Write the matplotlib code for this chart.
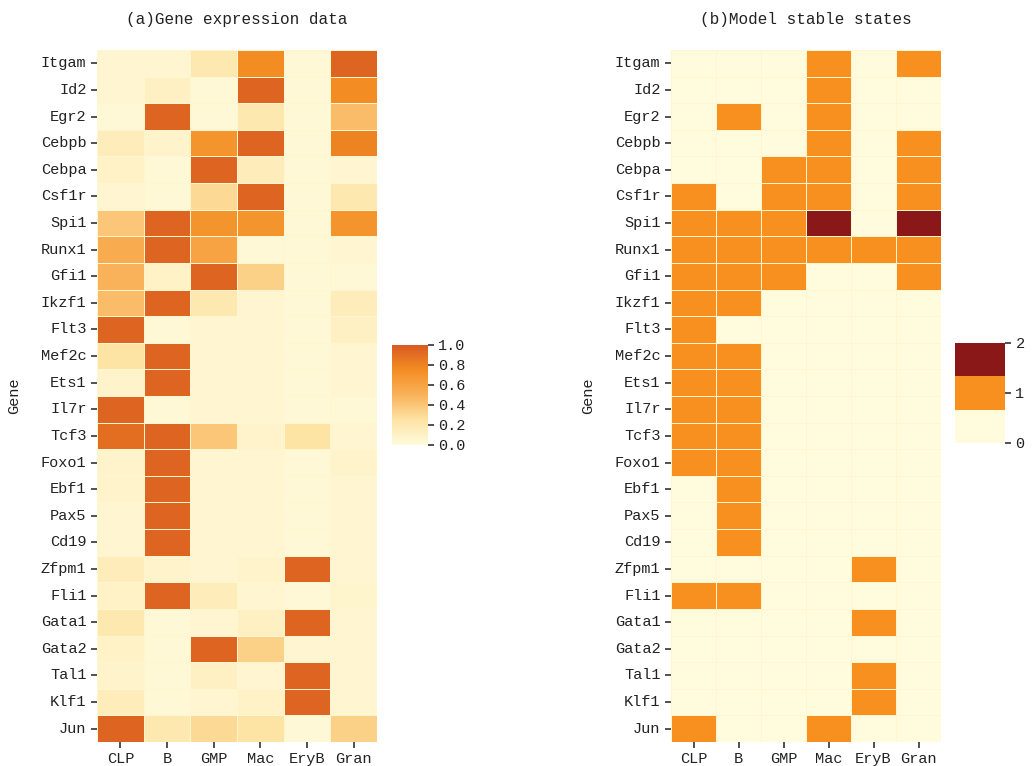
import numpy as np
import matplotlib
matplotlib.use("Agg")
import matplotlib.pyplot as plt
import seaborn as sns
from matplotlib.colors import LinearSegmentedColormap, ListedColormap

genes = ["Itgam", "Id2", "Egr2", "Cebpb", "Cebpa", "Csf1r", "Spi1", "Runx1", "Gfi1",
         "Ikzf1", "Flt3", "Mef2c", "Ets1", "Il7r", "Tcf3", "Foxo1", "Ebf1", "Pax5",
         "Cd19", "Zfpm1", "Fli1", "Gata1", "Gata2", "Tal1", "Klf1", "Jun"]
cells = ["CLP", "B", "GMP", "Mac", "EryB", "Gran"]

# (a) expression, columns follow `cells`
expr = [
    [0.05, 0.05, 0.20, 0.75, 0.03, 0.95],
    [0.05, 0.12, 0.03, 0.95, 0.03, 0.75],
    [0.03, 0.95, 0.03, 0.20, 0.03, 0.45],
    [0.15, 0.08, 0.70, 0.95, 0.03, 0.80],
    [0.10, 0.03, 0.95, 0.15, 0.03, 0.05],
    [0.05, 0.03, 0.30, 0.95, 0.03, 0.20],
    [0.40, 0.95, 0.70, 0.70, 0.03, 0.70],
    [0.55, 0.95, 0.60, 0.03, 0.03, 0.05],
    [0.50, 0.10, 0.95, 0.35, 0.03, 0.03],
    [0.45, 0.95, 0.20, 0.05, 0.03, 0.15],
    [0.95, 0.03, 0.05, 0.05, 0.03, 0.12],
    [0.25, 0.95, 0.05, 0.05, 0.03, 0.05],
    [0.08, 0.95, 0.05, 0.05, 0.03, 0.05],
    [0.95, 0.03, 0.05, 0.05, 0.03, 0.03],
    [0.90, 0.95, 0.40, 0.08, 0.25, 0.05],
    [0.08, 0.95, 0.05, 0.05, 0.03, 0.08],
    [0.08, 0.95, 0.05, 0.05, 0.03, 0.05],
    [0.05, 0.95, 0.05, 0.05, 0.03, 0.05],
    [0.05, 0.95, 0.05, 0.05, 0.03, 0.05],
    [0.15, 0.08, 0.05, 0.08, 0.95, 0.05],
    [0.10, 0.95, 0.15, 0.05, 0.03, 0.07],
    [0.20, 0.03, 0.05, 0.12, 0.95, 0.05],
    [0.10, 0.03, 0.95, 0.35, 0.05, 0.05],
    [0.08, 0.03, 0.12, 0.05, 0.95, 0.05],
    [0.15, 0.03, 0.05, 0.10, 0.95, 0.05],
    [0.95, 0.20, 0.30, 0.25, 0.03, 0.35],
]

# (b) model stable states
states = [
    [0, 0, 0, 1, 0, 1],
    [0, 0, 0, 1, 0, 0],
    [0, 1, 0, 1, 0, 0],
    [0, 0, 0, 1, 0, 1],
    [0, 0, 1, 1, 0, 1],
    [1, 0, 1, 1, 0, 1],
    [1, 1, 1, 2, 0, 2],
    [1, 1, 1, 1, 1, 1],
    [1, 1, 1, 0, 0, 1],
    [1, 1, 0, 0, 0, 0],
    [1, 0, 0, 0, 0, 0],
    [1, 1, 0, 0, 0, 0],
    [1, 1, 0, 0, 0, 0],
    [1, 1, 0, 0, 0, 0],
    [1, 1, 0, 0, 0, 0],
    [1, 1, 0, 0, 0, 0],
    [0, 1, 0, 0, 0, 0],
    [0, 1, 0, 0, 0, 0],
    [0, 1, 0, 0, 0, 0],
    [0, 0, 0, 0, 1, 0],
    [1, 1, 0, 0, 0, 0],
    [0, 0, 0, 0, 1, 0],
    [0, 0, 0, 0, 0, 0],
    [0, 0, 0, 0, 1, 0],
    [0, 0, 0, 0, 1, 0],
    [1, 0, 0, 1, 0, 0],
]

plt.rcParams['font.family'] = ['Liberation Mono', 'DejaVu Sans']
plt.rcParams['font.size'] = 11
plt.rcParams['text.color'] = '#222222'
plt.rcParams['axes.labelcolor'] = '#222222'
plt.rcParams['xtick.labelcolor'] = '#222222'
plt.rcParams['ytick.labelcolor'] = '#222222'

cmap_a = LinearSegmentedColormap.from_list(
    "expr", ["#fffbdc", "#fde3a4", "#f9b25a", "#f38d22", "#d95a22"])
cmap_b = ListedColormap(["#fffbdc", "#f7901e", "#8b1818"])

fig = plt.figure(figsize=(10.32, 7.66), dpi=100)
W, H = 1032, 766


def px(x0, y0, x1, y1):
    return [x0 / W, 1 - y1 / H, (x1 - x0) / W, (y1 - y0) / H]


ax_a = fig.add_axes(px(97, 50, 377, 742))
cax_a = fig.add_axes(px(392, 345, 428, 445))
ax_b = fig.add_axes(px(671, 50, 941, 742))
cax_b = fig.add_axes(px(955, 343, 1005, 443))

sns.heatmap(np.array(expr), ax=ax_a, cbar_ax=cax_a, cmap=cmap_a, vmin=0, vmax=1,
            linewidths=0.6, linecolor="#fff6d0",
            xticklabels=cells, yticklabels=genes)
sns.heatmap(np.array(states), ax=ax_b, cbar_ax=cax_b, cmap=cmap_b, vmin=0, vmax=2,
            linewidths=0.6, linecolor="#fff6d0",
            xticklabels=cells, yticklabels=genes)

cax_a.yaxis.set_ticks([0, 0.2, 0.4, 0.6, 0.8, 1.0])
cax_b.yaxis.set_ticks([0, 1, 2])

for ax, title in [(ax_a, "(a)Gene expression data"), (ax_b, "(b)Model stable states")]:
    ax.set_title(title, fontsize=11.5, pad=19)
    ax.set_ylabel("Gene", fontsize=11, labelpad=14)
    ax.tick_params(axis="both", length=4, width=1.2, color="#333333", labelsize=11)
    plt.setp(ax.get_yticklabels(), rotation=0)
    plt.setp(ax.get_xticklabels(), rotation=0)

for cax in (cax_a, cax_b):
    cax.tick_params(length=4, width=1.2, color="#333333", labelsize=11)
    cax.set_frame_on(False)

fig.savefig("out.png", dpi=100, facecolor="w")
